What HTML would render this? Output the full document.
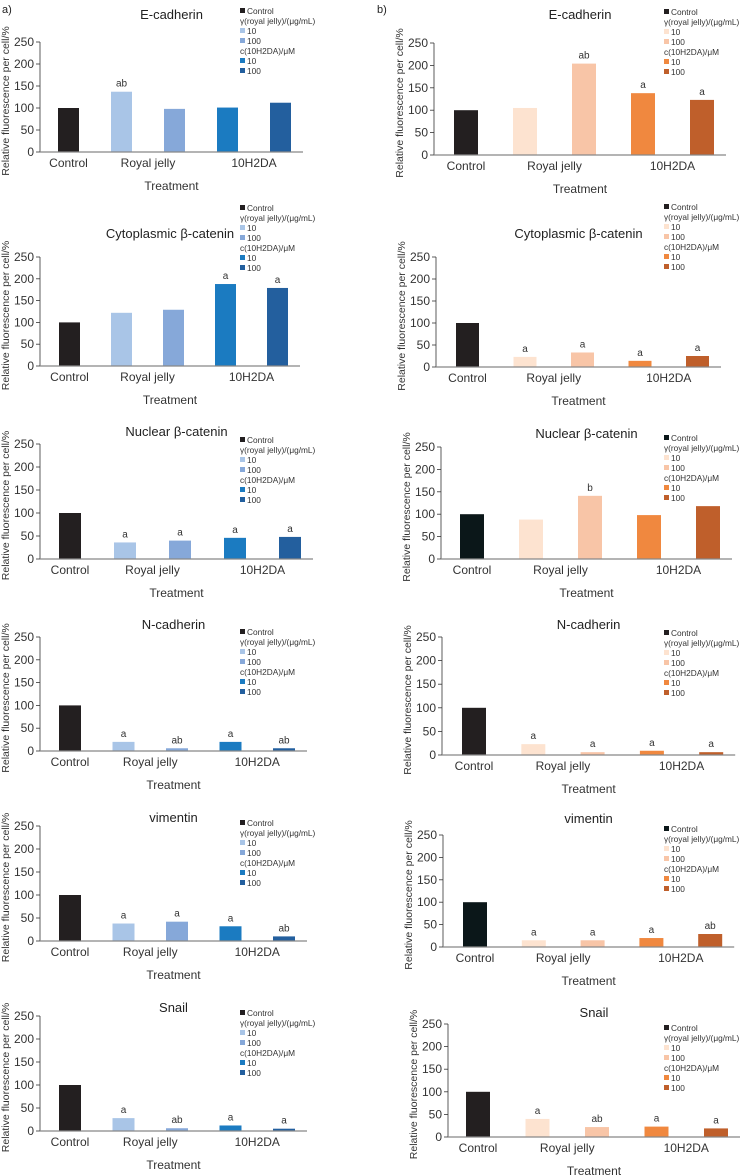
<!DOCTYPE html>
<html><head><meta charset="utf-8"><style>
html,body{margin:0;padding:0;background:#fff;}
svg{display:block;font-family:"Liberation Sans",sans-serif;}
</style></head><body>
<svg id="fig" width="748" height="1176" viewBox="0 0 748 1176" xmlns="http://www.w3.org/2000/svg">
<text x="2" y="13" font-size="11" fill="#222">a)</text>
<text x="377" y="13" font-size="11" fill="#222">b)</text>
</svg>
<script>
const categories = ["Control", "Royal jelly", "10H2DA"];
const yTicks = [0, 50, 100, 150, 200, 250];
const titles = ["E-cadherin", "Cytoplasmic β-catenin", "Nuclear β-catenin", "N-cadherin", "vimentin", "Snail"];
const valuesA = [
  [100, 137, 98, 101, 112],
  [100, 122, 129, 188, 179],
  [100, 36, 40, 46, 48],
  [100, 20, 6, 20, 6],
  [100, 38, 42, 32, 10],
  [100, 28, 6, 12, 5]
];
const lettersA = [
  ["", "ab", "", "", ""],
  ["", "", "", "a", "a"],
  ["", "a", "a", "a", "a"],
  ["", "a", "ab", "a", "ab"],
  ["", "a", "a", "a", "ab"],
  ["", "a", "ab", "a", "a"]
];
const valuesB = [
  [100, 105, 204, 138, 123],
  [100, 23, 33, 14, 25],
  [100, 88, 141, 98, 118],
  [100, 23, 6, 9, 6],
  [100, 15, 15, 20, 29],
  [100, 40, 22, 23, 19]
];
const lettersB = [
  ["", "", "ab", "a", "a"],
  ["", "a", "a", "a", "a"],
  ["", "", "b", "", ""],
  ["", "a", "a", "a", "a"],
  ["", "a", "a", "a", "ab"],
  ["", "a", "ab", "a", "a"]
];

// layout (not data)
const colorsA = ["#231f20", "#a9c5e7", "#86a8d9", "#1b7bc1", "#235f9e"];
const colorsB = ["#231f20", "#fde3d0", "#f8c5a7", "#f0883f", "#bf5f2b"];
const layoutA = [
  {ox:40, y0:152, y250:42, b0:58, sp:53, w:21, ty:19, ly:6},
  {ox:40, y0:366, y250:257, b0:59, sp:52, w:21, ty:238, ly:203},
  {ox:40, y0:559, y250:444, b0:59, sp:55, w:22, ty:436, ly:435},
  {ox:40, y0:751, y250:637, b0:59, sp:53.5, w:22, ty:629, ly:627},
  {ox:40, y0:941, y250:826, b0:59, sp:53.5, w:22, ty:822, ly:818},
  {ox:40, y0:1131, y250:1016, b0:59, sp:53.5, w:22, ty:1012, ly:1008}
];
const layoutB = [
  {ox:434, y0:155, y250:43, b0:454, sp:59, w:24, ty:19, ly:7},
  {ox:436, y0:367, y250:257, b0:456, sp:57.5, w:23, ty:238, ly:202},
  {ox:441, y0:559, y250:447, b0:460, sp:59, w:24, ty:438, ly:433},
  {ox:442, y0:755, y250:637, b0:462, sp:59.3, w:24, ty:629, ly:628},
  {ox:443, y0:947, y250:835, b0:463, sp:58.8, w:24, ty:823, ly:824},
  {ox:448, y0:1137, y250:1024, b0:466, sp:59.5, w:24, ty:1017, ly:1023}
];
const svg = document.getElementById('fig');
const NS = 'http://www.w3.org/2000/svg';
function mk(tag, attrs, txt){
  const e = document.createElementNS(NS, tag);
  for (const k in attrs) e.setAttribute(k, attrs[k]);
  if (txt !== undefined) e.textContent = txt;
  svg.appendChild(e);
  return e;
}
function drawPanel(side, idx, L, vals, lets, cols){
  const yScale = v => L.y0 - (v / 250) * (L.y0 - L.y250);
  const xBar = i => L.b0 + i * L.sp;
  const axisEnd = xBar(4) + L.w + 12;
  const cx = (L.ox + axisEnd) / 2;
  const t = mk('text', {x: cx, y: L.ty, 'font-size': 13, 'text-anchor': 'middle', fill: '#222'}, titles[idx]);
  
  
  const ya = mk('line', {x1: L.ox, y1: L.y250, x2: L.ox, y2: L.y0, stroke: '#333', 'stroke-width': 0.8});
  
  
  yTicks.forEach(v => {
    const y = yScale(v);
    const tk = mk('line', {x1: L.ox - 4, y1: y, x2: L.ox, y2: y, stroke: '#333', 'stroke-width': 0.8});
    
    
    const tl = mk('text', {x: L.ox - 6, y: y + 4, 'font-size': 12, 'text-anchor': 'end', fill: '#333'}, String(v));
    
    
  });
  const yt = mk('text', {x: 0, y: 0, 'font-size': 10.5, 'text-anchor': 'middle', fill: '#333',
    transform: `translate(${L.ox - 31},${(L.y0 + L.y250)/2 + 4}) rotate(-90)`}, 'Relative fluorescence per cell/%');
  
  
  vals.forEach((v, i) => {
    const y = yScale(v);
    const r = mk('rect', {x: xBar(i), y: y, width: L.w, height: L.y0 - y, fill: cols[i]});
    
    
    if (lets[i]) {
      const lt = mk('text', {x: xBar(i) + L.w/2, y: y - 5, 'font-size': 10, 'text-anchor': 'middle', fill: '#333'}, lets[i]);
      
      
    }
  });
  const xa = mk('line', {x1: L.ox, y1: L.y0, x2: axisEnd, y2: L.y0, stroke: '#888', 'stroke-width': 1.2});
  
  
  const catX = [xBar(0) + L.w/2, (xBar(1) + xBar(2) + L.w)/2, (xBar(3) + xBar(4) + L.w)/2];
  categories.forEach((c, i) => {
    const cl = mk('text', {x: catX[i], y: L.y0 + 15, 'font-size': 12, 'text-anchor': 'middle', fill: '#333'}, c);
    
    
  });
  const xt = mk('text', {x: cx, y: L.y0 + 38, 'font-size': 12, 'text-anchor': 'middle', fill: '#333'}, 'Treatment');
  
  
  const lx = side === 'a' ? 240 : 664;
  const rows = [['Control', 0], ['γ(royal jelly)/(μg/mL)', -1], ['10', 1], ['100', 2], ['c(10H2DA)/μM', -1], ['10', 3], ['100', 4]];
  rows.forEach((r, j) => {
    const y = L.ly + j * 10;
    if (r[1] >= 0) {
      const sq = mk('rect', {x: lx, y: y + 2, width: 5, height: 5, fill: cols[r[1]]});
      
      
      const tx = mk('text', {x: lx + 7, y: y + 8, 'font-size': 8.3, fill: '#333'}, r[0]);
      
      
    } else {
      const tx = mk('text', {x: lx, y: y + 8, 'font-size': 8.3, fill: '#333'}, r[0]);
      
      
    }
  });
}
for (let i = 0; i < 6; i++) {
  drawPanel('a', i, layoutA[i], valuesA[i], lettersA[i], colorsA);
  const cb = colorsB.slice();
  if (i === 2 || i === 4) cb[0] = '#0b1719';
  drawPanel('b', i, layoutB[i], valuesB[i], lettersB[i], cb);
}
</script>
</body></html>
